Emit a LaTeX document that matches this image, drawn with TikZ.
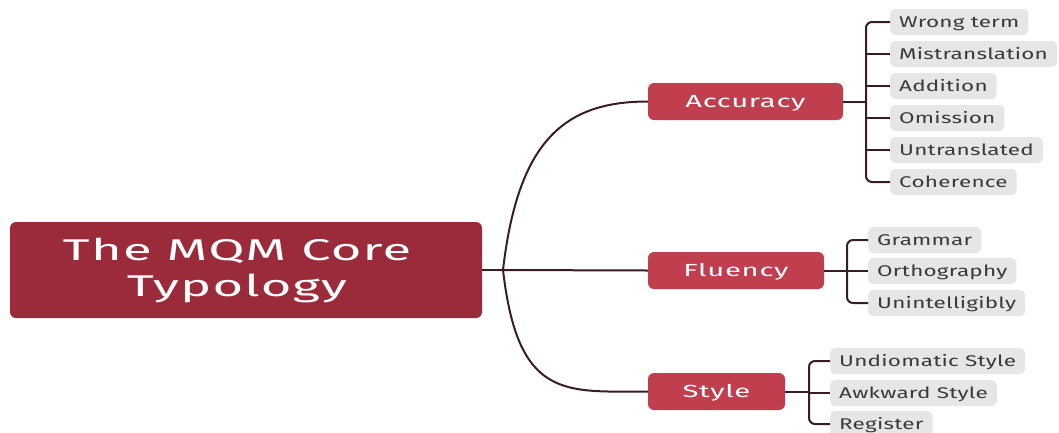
\documentclass[tikz,border=0pt]{standalone}
\usepackage{fontspec}
\setmainfont{Fira Sans}[FakeStretch=1.45, LetterSpace=1.5]
\newfontfamily\midfont{Fira Sans}[FakeStretch=1.67, LetterSpace=4]
\newfontfamily\rootfont{Fira Sans}[FakeStretch=1.75, LetterSpace=4]
\definecolor{rootred}{HTML}{9B2A3B}
\definecolor{midred}{HTML}{C13E4E}
\definecolor{leafbg}{HTML}{E6E6E6}
\definecolor{leaftext}{HTML}{3A3A3A}
\definecolor{linec}{HTML}{3B1C22}
\tikzset{
  rootbox/.style={fill=rootred, rounded corners=6pt, text=white, align=center,
    minimum width=472pt, minimum height=96pt, font=\rootfont\fontsize{30}{36}\selectfont, inner sep=0pt},
  midbox/.style={fill=midred, rounded corners=6pt, text=white,
    minimum height=37pt, text height=12.5pt, text depth=0pt,
    font=\midfont\fontsize{17.5}{20}\selectfont, inner sep=0pt},
  leaf/.style={fill=leafbg, rounded corners=5pt, text=leaftext, anchor=west,
    minimum height=26pt, text height=11pt, text depth=0pt,
    inner xsep=9pt, inner ysep=0pt, font=\fontsize{15.5}{17}\selectfont},
  conn/.style={draw=linec, line width=2pt},
  brk/.style={draw=linec, line width=2pt, rounded corners=6pt},
}
\begin{document}
\begin{tikzpicture}[x=1pt, y=-1pt]
\useasboundingbox (0,0) rectangle (1059,432);
\node[rootbox] (root) at (246,270) {\hspace*{-18pt}The MQM Core\\\hspace*{-18pt}Typology};
\node[midbox, minimum width=195pt] (acc) at (745.5,101.5) {Accuracy};
\node[midbox, minimum width=176pt] (flu) at (736,270.5) {Fluency};
\node[midbox, minimum width=137pt] (sty) at (716.5,391.5) {Style};

\coordinate (hub) at (503,270);
\draw[conn] (root.east) -- (hub);
\draw[conn] (hub) -- (flu.west);
\draw[conn] (hub) .. controls (518,140) and (565,101.5) .. (acc.west);
\draw[conn] (hub) .. controls (518,400) and (565,391.5) .. (sty.west);

% Accuracy leaves
\node[leaf] (a1) at (890,22) {Wrong term};
\node[leaf] (a2) at (890,54) {Mistranslation};
\node[leaf] (a3) at (890,86) {Addition};
\node[leaf] (a4) at (890,118) {Omission};
\node[leaf] (a5) at (890,150) {Untranslated};
\node[leaf] (a6) at (890,182) {Coherence};
\coordinate (aj) at (866,101.5);
\draw[conn] (acc.east) -- (aj);
\draw[brk] (a1.west) -| (aj) |- (a6.west);
\foreach \n in {a2,a3,a4,a5} \draw[conn] (aj |- \n.west) -- (\n.west);

% Fluency leaves
\node[leaf] (f1) at (868,240) {Grammar};
\node[leaf] (f2) at (868,271) {Orthography};
\node[leaf] (f3) at (868,303) {Unintelligibly};
\coordinate (fj) at (847,270.5);
\draw[conn] (flu.east) -- (fj);
\draw[brk] (f1.west) -| (fj) |- (f3.west);
\draw[conn] (fj |- f2.west) -- (f2.west);

% Style leaves
\node[leaf] (s1) at (830,361) {Undiomatic Style};
\node[leaf] (s2) at (830,393) {Awkward Style};
\node[leaf] (s3) at (830,424) {Register};
\coordinate (sj) at (809,391.5);
\draw[conn] (sty.east) -- (sj);
\draw[brk] (s1.west) -| (sj) |- (s3.west);
\draw[conn] (sj |- s2.west) -- (s2.west);
\end{tikzpicture}
\end{document}
